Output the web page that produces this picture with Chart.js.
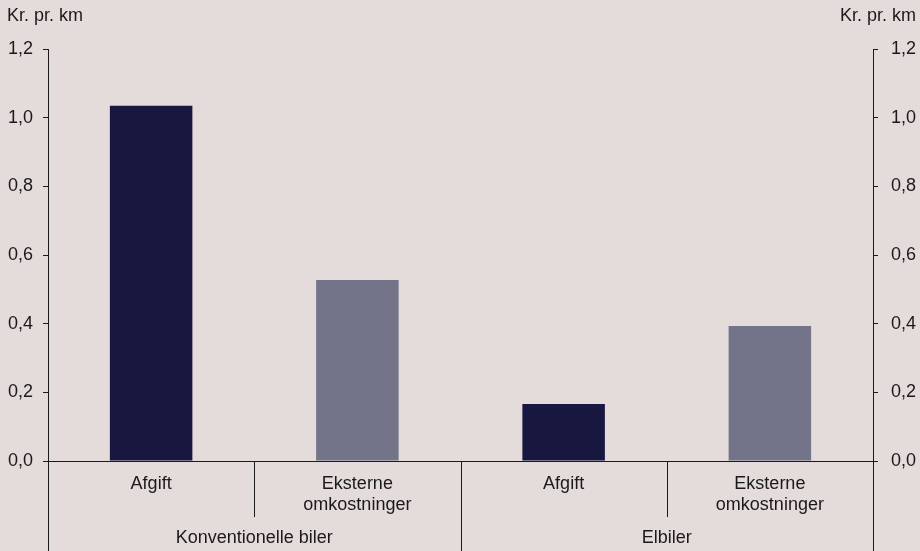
<!DOCTYPE html>
<html lang="da">
<head>
<meta charset="utf-8">
<title>Afgift og eksterne omkostninger</title>
<script src="https://cdn.jsdelivr.net/npm/chart.js@4"></script>
<style>
    html, body { margin: 0; padding: 0; background: #e3dcda; }
    #wrap { position: relative; width: 920px; height: 551px; }
</style>
</head>
<body>
<div id="wrap"><canvas id="chart"></canvas></div>
<script>
// Data
const categories = ['Afgift', ['Eksterne', 'omkostninger'], 'Afgift', ['Eksterne', 'omkostninger']];
const groups = ['Konventionelle biler', 'Elbiler'];
const values = [1.035, 0.527, 0.166, 0.393];
const barColors = ['#171740', '#737389', '#171740', '#737389'];
const yTicks = [0, 0.2, 0.4, 0.6, 0.8, 1.0, 1.2];
const unitLabel = 'Kr. pr. km';

const FONT = 'Liberation Sans, Arial, sans-serif';
const INK = '#1a1a1a';

// Format 0.2 -> "0,2"
function fmt(v) {
    return v.toFixed(1).replace('.', ',');
}

// Group labels, separators and unit texts
const decorPlugin = {
    id: 'decor',
    afterDraw(chart) {
        const ctx = chart.ctx;
        const area = chart.chartArea;
        const x = chart.scales.x;
        const h = chart.height;
        const step = x.getPixelForValue(1) - x.getPixelForValue(0);

        ctx.save();
        ctx.strokeStyle = INK;
        ctx.lineWidth = 1;

        // Separators between sub categories (short) and groups (long)
        for (let i = 0; i < categories.length - 1; i++) {
            const px = Math.round(x.getPixelForValue(i) + step / 2) + 0.5;
            const isGroup = (i + 1) % 2 === 0;
            ctx.beginPath();
            ctx.moveTo(px, area.bottom);
            ctx.lineTo(px, isGroup ? h : area.bottom + 56);
            ctx.stroke();
        }

        // Axis lines continue down to the bottom edge
        [area.left, area.right].forEach(px => {
            ctx.beginPath();
            ctx.moveTo(Math.round(px) + 0.5, area.bottom);
            ctx.lineTo(Math.round(px) + 0.5, h);
            ctx.stroke();
        });

        // Group labels
        ctx.fillStyle = INK;
        ctx.font = '18px ' + FONT;
        ctx.textAlign = 'center';
        ctx.textBaseline = 'middle';
        groups.forEach((g, gi) => {
            const cx = (x.getPixelForValue(gi * 2) + x.getPixelForValue(gi * 2 + 1)) / 2;
            ctx.fillText(g, cx, area.bottom + 77);
        });

        // Unit labels above both axes
        ctx.textAlign = 'left';
        ctx.fillText(unitLabel, 7, 16);
        ctx.textAlign = 'right';
        ctx.fillText(unitLabel, 916, 16);
        ctx.restore();
    }
};

const yAxis = (position, width, pad) => ({
    position: position,
    min: 0,
    max: 1.2,
    afterBuildTicks: scale => {
        scale.ticks = yTicks.map(v => ({ value: v }));
    },
    afterFit: scale => {
        scale.width = width;
    },
    border: { color: INK, width: 1 },
    grid: {
        drawOnChartArea: false,
        drawTicks: true,
        tickLength: 5,
        color: INK
    },
    ticks: {
        color: INK,
        padding: pad,
        font: { family: FONT, size: 18 },
        callback: v => fmt(v)
    }
});

const ctx = document.getElementById('chart');
new Chart(ctx, {
    type: 'bar',
    data: {
        labels: categories,
        datasets: [{
            data: values,
            backgroundColor: barColors,
            borderWidth: 0,
            categoryPercentage: 1,
            barPercentage: 0.4
        }]
    },
    options: {
        responsive: true,
        maintainAspectRatio: false,
        animation: false,
        devicePixelRatio: 1,
        layout: { padding: { top: 49, left: 0, right: 0, bottom: 0 } },
        plugins: {
            legend: { display: false },
            tooltip: { enabled: false }
        },
        scales: {
            x: {
                afterFit: scale => {
                    scale.height = 90;
                },
                border: { color: INK, width: 1 },
                grid: { display: false },
                ticks: {
                    color: INK,
                    padding: 4,
                    maxRotation: 0,
                    font: { family: FONT, size: 18, lineHeight: 1.2 }
                }
            },
            y: yAxis('left', 48, 10),
            y2: yAxis('right', 47, 13)
        }
    },
    plugins: [decorPlugin]
});
</script>
</body>
</html>
